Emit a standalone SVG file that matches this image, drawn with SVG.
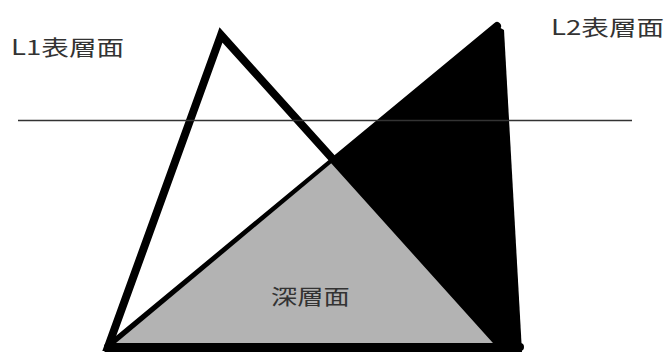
<svg xmlns="http://www.w3.org/2000/svg" width="670" height="352" viewBox="0 0 670 352">
<style>
.lbl{font-family:"Noto Sans CJK JP","Noto Sans",sans-serif;font-size:21px;fill:#333}
.edge{stroke:#000;stroke-width:8;stroke-linejoin:miter;stroke-linecap:round;fill:none}
</style>
<rect width="670" height="352" fill="#fff"/>
<g id="l2-layer">
<polygon points="497,26 504,30 522,352 104,352 110,346" fill="#000"/>
<line class="edge" x1="497" y1="26" x2="110" y2="346"/>
</g>
<g id="deep-layer">
<polygon points="334,161 116,343 500,343" fill="#b3b3b3"/>
</g>
<g id="l1-layer">
<polygon class="edge" points="221,35 108,347 502,347"/>
<line class="edge" x1="108" y1="347" x2="520" y2="347"/>
</g>
<g id="connectors">
<line x1="18" y1="120.5" x2="632" y2="120.5" stroke="#333" stroke-width="1.5"/>
</g>
<g id="label-l1"><text class="lbl" transform="translate(11,55) scale(1.3,1)" textLength="87" lengthAdjust="spacingAndGlyphs">L1表層面</text></g>
<g id="label-l2"><text class="lbl" transform="translate(551,35) scale(1.3,1)" textLength="87" lengthAdjust="spacingAndGlyphs">L2表層面</text></g>
<g id="label-deep"><text class="lbl" transform="translate(271,304) scale(1.25,1)" textLength="63" lengthAdjust="spacingAndGlyphs">深層面</text></g>
</svg>
